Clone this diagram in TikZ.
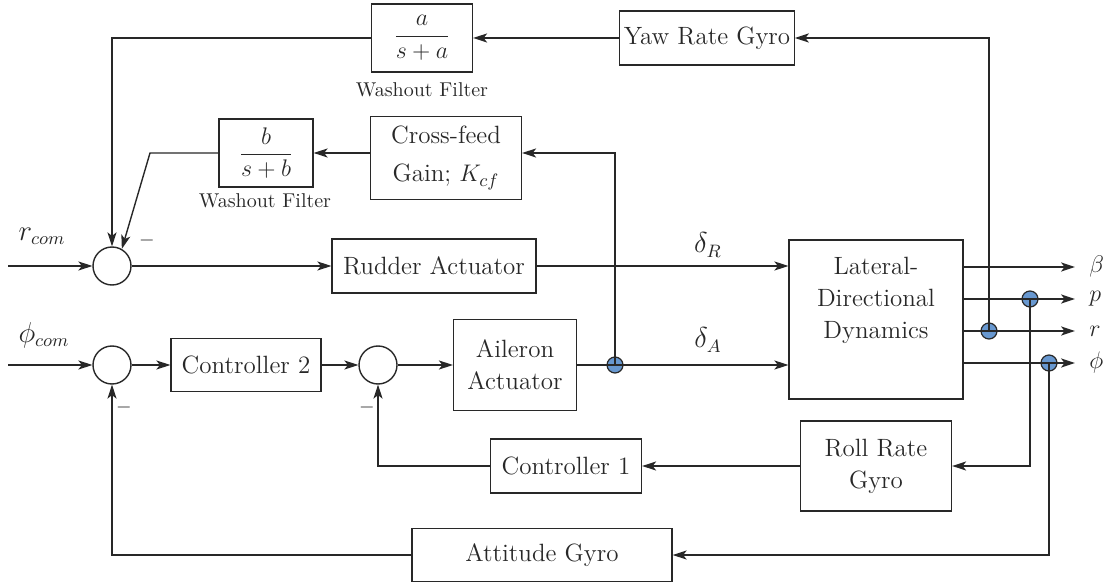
\documentclass[tikz,border=0pt]{standalone}
\usepackage{amsmath}
\usetikzlibrary{arrows.meta}
\definecolor{dotblue}{RGB}{104,152,208}
\definecolor{ink}{RGB}{40,40,40}
\newcommand{\blkfont}{\fontsize{12.5}{16}\selectfont}
\newcommand{\mathlblfont}{\fontsize{13.5}{16}\selectfont}
\begin{document}
\begin{tikzpicture}[x=0.5pt,y=-0.5pt, line width=0.7pt, color=ink,
  >={Stealth[length=7pt,width=4.6pt,inset=1.8pt]},
  blk/.style={draw, rectangle, inner sep=2pt, align=center, font=\blkfont},
  sumc/.style={draw, circle, minimum size=19pt, inner sep=0pt},
  tapdot/.style={draw, circle, fill=dotblue, minimum size=8pt, inner sep=0pt, line width=0.6pt},
  lbl/.style={font=\blkfont},
  mlbl/.style={font=\mathlblfont},
  note/.style={font=\fontsize{10}{12}\selectfont}]
\useasboundingbox (0,0) rectangle (1107,582);

% blocks
\node[blk, minimum width=50.5pt, minimum height=34pt] (wa) at (422,38) {$\dfrac{a}{s+a}$};
\node[note] (walbl) at (422,90) {Washout Filter};
\node[blk, minimum width=83pt, minimum height=27pt] (yaw) at (707,38) {Yaw Rate Gyro};
\node[blk, minimum width=47pt, minimum height=34pt] (wb) at (266,153) {$\dfrac{b}{s+b}$};
\node[note] (wblbl) at (265,201) {Washout Filter};
\node[blk, minimum width=75.5pt, minimum height=41.5pt] (cf) at (446,158) {Cross-feed\\[3pt] Gain; $K_{cf}$};
\node[sumc] (s1) at (112,266) {};
\node[blk, minimum width=102pt, minimum height=27pt] (rud) at (434,266) {Rudder Actuator};
\node[draw, rectangle, minimum width=87pt, minimum height=79.5pt] (lat) at (876,319.5) {};
\node[lbl, align=center] (lattext) at (876,300) {Lateral-\\Directional\\Dynamics};
\node[sumc] (s2) at (112,365) {};
\node[blk, minimum width=75pt, minimum height=26.5pt] (c2) at (246,365) {Controller 2};
\node[sumc] (s3) at (378,365) {};
\node[blk, minimum width=61.5pt, minimum height=45.5pt] (ail) at (515,365) {Aileron\\Actuator};
\node[blk, minimum width=75.5pt, minimum height=27pt] (c1) at (566,466) {Controller 1};
\node[blk, minimum width=75.5pt, minimum height=45pt] (rrg) at (876,466) {Roll Rate\\Gyro};
\node[blk, minimum width=130pt, minimum height=26.5pt] (att) at (542,555) {Attitude Gyro};

% tap dots
\node[tapdot] (tapA) at (615,365) {};
\node[tapdot] (dotR) at (989,331) {};
\node[tapdot] (dotP) at (1030,299) {};
\node[tapdot] (dotF) at (1049,363) {};

% free ends
\coordinate (inR) at (8,266);
\coordinate (inF) at (8,365);
\coordinate (bendB) at (150,153);
\coordinate (oB) at (1075,267);
\coordinate (oP) at (1075,299);
\coordinate (oR) at (1075,331);
\coordinate (oF) at (1075,363);

% labels
\node[mlbl] (rcom) at (42,236) {$r_{com}$};
\node[mlbl] (phicom) at (44,335) {$\phi_{com}$};
\node[mlbl] (dR) at (708,245) {$\delta_R$};
\node[mlbl] (dA) at (708,340) {$\delta_A$};
\node[lbl, anchor=west] (lB) at (1082,267) {$\beta$};
\node[lbl, anchor=west] (lP) at (1082,299) {$p$};
\node[lbl, anchor=west] (lR) at (1082,331) {$r$};
\node[lbl, anchor=west] (lF) at (1082,363) {$\phi$};
\node (m1) at (147,241) {$-$};
\node (m2) at (124,407) {$-$};
\node (m3) at (367,407) {$-$};

% connectors
\draw[->] (inR) -- (s1);
\draw[->] (s1) -- (rud);
\draw[->] (rud.east) -- (rud.east -| lat.west);
\draw[->] (inF) -- (s2);
\draw[->] (s2) -- (c2);
\draw[->] (c2) -- (s3);
\draw[->] (s3) -- (ail);
\draw[->] (ail.east) -- (ail.east -| lat.west);
\draw[->] (tapA.center) |- (cf.east |- wb.east);
\draw[->] (cf.west |- wb.east) -- (wb.east);
\draw[->] (wb.west) -- (bendB) -- (s1.60);
\draw[->] (yaw.west) -- (wa.east);
\draw[->] (wa.west) -| (s1.north);
\draw[->] (lat.east |- oB) -- (oB);
\draw[->] (lat.east |- oP) -- (oP);
\draw[->] (lat.east |- oR) -- (oR);
\draw[->] (lat.east |- oF) -- (oF);
\draw[->] (dotR.center) |- (yaw.east);
\draw[->] (dotP.center) |- (rrg.east);
\draw[->] (dotF.center) |- (att.east);
\draw[->] (rrg.west) -- (c1.east);
\draw[->] (c1.west) -| (s3.south);
\draw[->] (att.west) -| (s2.south);
\end{tikzpicture}
\end{document}
